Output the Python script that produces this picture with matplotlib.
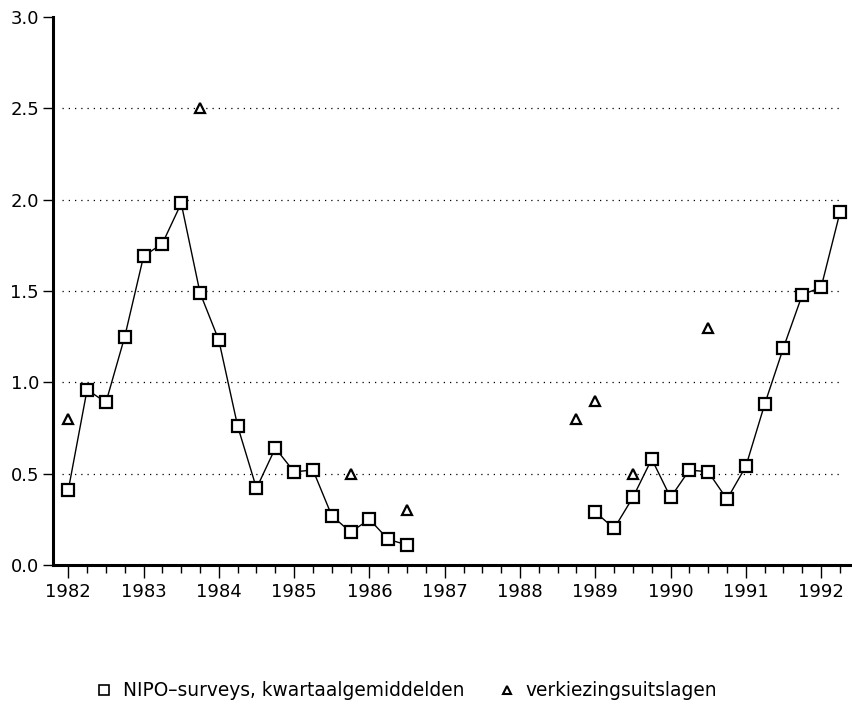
import numpy as np
import matplotlib
matplotlib.use("Agg")
import matplotlib.pyplot as plt
from matplotlib.ticker import MultipleLocator
from matplotlib.lines import Line2D

# Quarterly NIPO survey averages (x = year + quarter offset)
survey_x1 = [1982.0, 1982.25, 1982.5, 1982.75, 1983.0, 1983.25, 1983.5, 1983.75,
             1984.0, 1984.25, 1984.5, 1984.75, 1985.0, 1985.25, 1985.5, 1985.75,
             1986.0, 1986.25, 1986.5]
survey_y1 = [0.41, 0.96, 0.89, 1.25, 1.69, 1.76, 1.98, 1.49,
             1.23, 0.76, 0.42, 0.64, 0.51, 0.52, 0.27, 0.18,
             0.25, 0.14, 0.11]
survey_x2 = [1989.0, 1989.25, 1989.5, 1989.75, 1990.0, 1990.25, 1990.5, 1990.75,
             1991.0, 1991.25, 1991.5, 1991.75, 1992.0, 1992.25]
survey_y2 = [0.29, 0.20, 0.37, 0.58, 0.37, 0.52, 0.51, 0.36,
             0.54, 0.88, 1.19, 1.48, 1.52, 1.93]

# Election results
election_x = [1982.0, 1983.75, 1985.75, 1986.5, 1988.75, 1989.0, 1989.5, 1990.5]
election_y = [0.80, 2.50, 0.50, 0.30, 0.80, 0.90, 0.50, 1.30]

year_labels = ["1982", "1983", "1984", "1985", "1986", "1987", "1988", "1989",
               "1990", "1991", "1992"]
y_ticks = [0.0, 0.5, 1.0, 1.5, 2.0, 2.5, 3.0]
grid_levels = [0.5, 1.0, 1.5, 2.0, 2.5]

legend_labels = ["NIPO\u2013surveys, kwartaalgemiddelden", "verkiezingsuitslagen"]

plt.rcParams['font.family'] = ['DejaVu Sans']

fig = plt.figure(figsize=(8.52, 7.06), dpi=100)
ax = fig.add_axes([53 / 852, 1 - 565 / 706, 1 - 53 / 852, (565 - 17) / 706])

ax.set_xlim(1981.797, 1992.41)
ax.set_ylim(0.0, 3.0)

# dotted grid lines
ax.hlines(grid_levels, 1981.92, 1992.27, colors='black', linestyles=(0, (1, 4)),
          linewidth=0.9, zorder=1)

sq_kw = dict(marker='s', markersize=8.3, markerfacecolor='white',
             markeredgecolor='black', markeredgewidth=1.6, color='black',
             linewidth=1.0, zorder=3)
ax.plot(survey_x1, survey_y1, **sq_kw)
ax.plot(survey_x2, survey_y2, **sq_kw)
ax.plot(election_x, election_y, linestyle='none', marker='^', markersize=6.5,
        markerfacecolor='white', markeredgecolor='black', markeredgewidth=1.6,
        zorder=3)

# axes styling
for s in ['top', 'right']:
    ax.spines[s].set_visible(False)
for s in ['left', 'bottom']:
    ax.spines[s].set_linewidth(2.2)

years = [int(y) for y in year_labels]
ax.set_xticks(years)
ax.set_xticklabels(year_labels)
ax.xaxis.set_minor_locator(MultipleLocator(0.25))
ax.tick_params(axis='x', which='major', length=9, width=1.0, direction='out',
               labelsize=13, pad=4)
ax.tick_params(axis='x', which='minor', length=6, width=1.0, direction='out')

ax.set_yticks(y_ticks)
ax.set_yticklabels([f"{v:.1f}" for v in y_ticks])
ax.tick_params(axis='y', which='major', length=7, width=1.0, direction='out',
               labelsize=13, pad=3)

# legend
handles = [
    Line2D([], [], linestyle='none', marker='s', markersize=7,
           markerfacecolor='white', markeredgecolor='black', markeredgewidth=1.2),
    Line2D([], [], linestyle='none', marker='^', markersize=6,
           markerfacecolor='white', markeredgecolor='black', markeredgewidth=1.5),
]
fig.legend(handles, legend_labels, loc='center left',
           bbox_to_anchor=(80 / 852, 1 - 691 / 706),
           ncol=2, frameon=False, fontsize=13.4, handlelength=0.8,
           handletextpad=0.6, columnspacing=1.9)

fig.savefig("out.png", dpi=100)
